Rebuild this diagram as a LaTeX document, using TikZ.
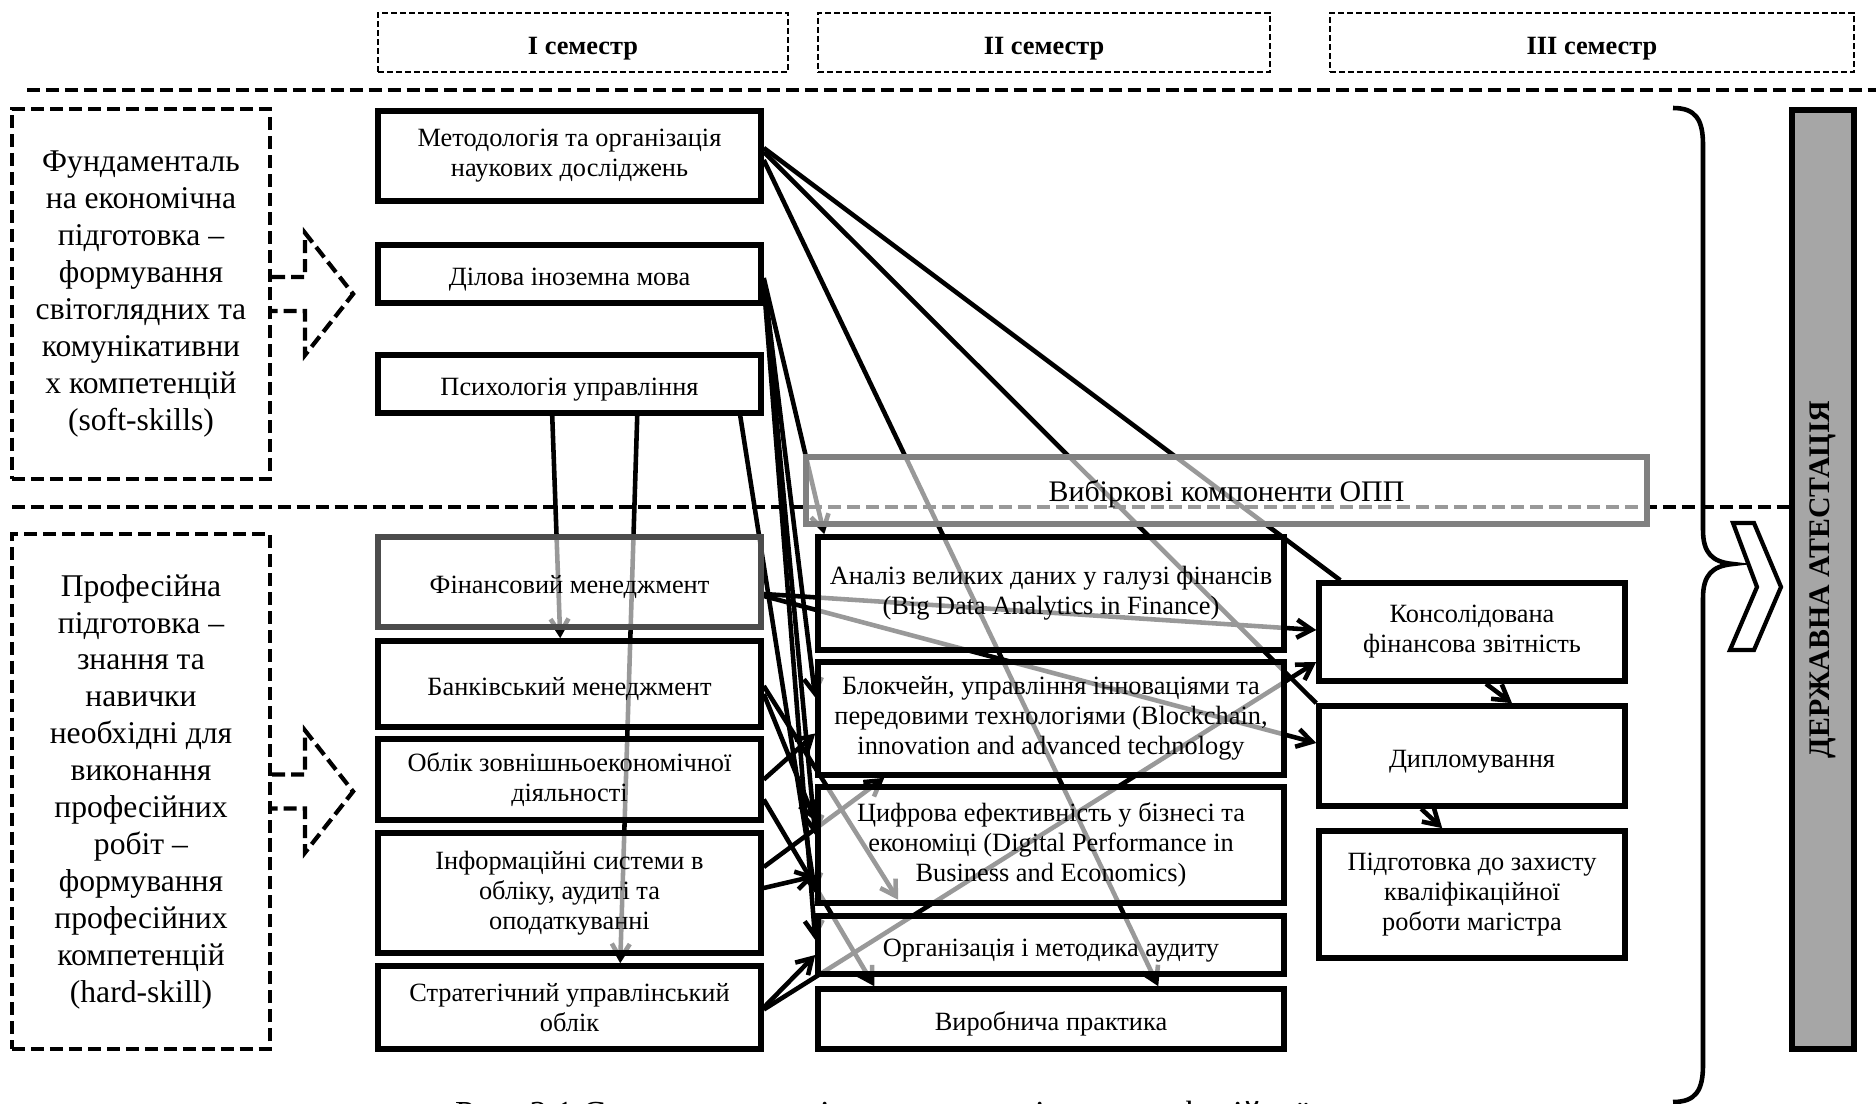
\documentclass[tikz,border=0pt]{standalone}
\usepackage{fontspec}
\setmainfont{Liberation Serif}
\usetikzlibrary{arrows.meta, calc}
\pgfdeclarelayer{bg}
\pgfsetlayers{bg,main}

\begin{document}
\begin{tikzpicture}[x=0.02cm, y=-0.02cm,
  box/.style={draw, line width=3.2pt, fill=white, fill opacity=0.6, text opacity=1,
    inner sep=0pt, align=center, font=\fontsize{15}{17}\selectfont,
    execute at begin node={\rule{0pt}{16pt}}},
  col1/.style={box, minimum width=7.66cm},
  col2/.style={box, minimum width=9.32cm},
  col3/.style={box, minimum width=6.12cm},
  semester/.style={draw, line width=1.2pt, dash pattern=on 3.4pt off 1.7pt,
    minimum height=1.18cm, inner sep=0pt, font=\fontsize{15}{18}\selectfont\bfseries,
    execute at begin node={\rule{0pt}{17pt}}},
  group/.style={draw, line width=2.4pt, dash pattern=on 7.4pt off 3.4pt,
    minimum width=5.16cm, inner sep=0pt, align=center, font=\fontsize{18}{21}\selectfont,
    execute at begin node={\rule{0pt}{18pt}}},
  sep/.style={line width=2.6pt, dash pattern=on 7.4pt off 3.4pt},
  plain/.style={line width=2.6pt},
  link/.style={line width=2.6pt, -{Straight Barb[length=3mm,width=3.6mm]}}]

  \useasboundingbox (0,0) rectangle (1876,1104);

  \node[semester, minimum width=8.2cm] (s1) at (583,42.5) {I семестр};
  \node[semester, minimum width=9.04cm] (s2) at (1044,42.5) {II семестр};
  \node[semester, minimum width=10.48cm] (s3) at (1592,42.5) {III семестр};

  \node[group, minimum height=7.4cm] (fund) at (141,294)
    {Фундаменталь\\на економічна\\підготовка –\\формування\\світоглядних та\\комунікативни\\х компетенцій\\(soft-skills)};
  \node[group, minimum height=10.3cm] (prof) at (141,791.5)
    {Професійна\\підготовка –\\знання та\\навички\\необхідні для\\виконання\\професійних\\робіт –\\формування\\професійних\\компетенцій\\(hard-skill)};
  \foreach \n in {fund,prof}
    \draw[sep, line width=2.4pt] ($(\n.east)+(0,-17)$) -- ++(33,0) -- ++(0,-44) -- ++(48,61)
      -- ++(-48,61) -- ++(0,-44) -- ++(-33,0);

  \node[col1, minimum height=1.8cm] (met) at (569.5,156) {Методологія та організація\\наукових досліджень};
  \node[col1, minimum height=1.16cm] (dil) at (569.5,274) {Ділова іноземна мова};
  \node[col1, minimum height=1.16cm] (psy) at (569.5,384) {Психологія управління};
  \node[col1, draw=black!70, minimum height=1.8cm] (fin) at (569.5,582) {Фінансовий менеджмент};
  \node[col1, minimum height=1.72cm] (bank) at (569.5,684) {Банківський менеджмент};
  \node[col1, minimum height=1.62cm] (zed) at (569.5,779.5) {Облік зовнішньоекономічної\\діяльності};
  \node[col1, minimum height=2.4cm] (info) at (569.5,893) {Інформаційні системи в\\обліку, аудиті та\\оподаткуванні};
  \node[col1, minimum height=1.66cm] (strat) at (569.5,1007.5) {Стратегічний управлінський\\облік};

  \node[box, draw=black!50, minimum width=16.82cm, minimum height=1.34cm,
    font=\fontsize{17}{20}\selectfont] (vyb) at (1226.5,490.5) {Вибіркові компоненти ОПП};

  \node[col2, minimum height=2.26cm] (big) at (1051,593.5) {Аналіз великих даних у галузі фінансів\\(Big Data Analytics in Finance)};
  \node[col2, minimum height=2.26cm] (blk) at (1051,718.5) {Блокчейн, управління інноваціями та\\передовими технологіями (Blockchain,\\innovation and advanced technology};
  \node[col2, minimum height=2.32cm] (cyf) at (1051,845) {Цифрова ефективність у бізнесі та\\економіці (Digital Performance in\\Business and Economics)};
  \node[col2, minimum height=1.16cm] (aud) at (1051,945) {Організація і методика аудиту};
  \node[col2, minimum height=1.2cm] (prak) at (1051,1019) {Виробнича практика};

  \node[col3, minimum height=1.96cm] (kons) at (1472,632) {Консолідована\\фінансова звітність};
  \node[col3, minimum height=2cm] (dipl) at (1472,756) {Дипломування};
  \node[col3, minimum height=2.54cm] (zah) at (1472,894.5) {Підготовка до захисту\\кваліфікаційної\\роботи магістра};

  \node[draw, line width=3.2pt, fill=black!35, rotate=90, minimum width=18.78cm, minimum height=1.24cm,
    inner sep=0pt, font=\fontsize{17}{20}\selectfont\bfseries] (att) at (1823,579.5) {ДЕРЖАВНА АТЕСТАЦІЯ};

  \draw[line width=2.6pt] (1673,108) .. controls (1696,108) and (1703,120) .. (1703,145)
    -- (1703,530) .. controls (1703,553) and (1712,562) .. (1733,564)
    .. controls (1712,566) and (1703,575) .. (1703,598)
    -- (1703,1065) .. controls (1703,1090) and (1696,1102) .. (1673,1102);
  \draw[line width=2.4pt, fill=white] (1733,523) -- (1754,523) -- (1781,587) -- (1754,650)
    -- (1730,650) -- (1757,587) -- cycle;

  \node[anchor=base west, font=\fontsize{20}{24}\selectfont] (cap) at (449,1125)
    {Рис. 2.1 Структурно-логічна схема освітньо-професійної програми};

  \begin{pgfonlayer}{bg}
    \draw[sep] (27,90) -- (1876,90);
    \draw[sep] (12,507) -- (1792,507);

    \draw[plain] ($(met.east)+(0,-8)$) -- ($(kons.north west)+(24,0)$);
    \draw[plain] ($(met.east)+(0,-4)$) -- (dipl.north west);
    \draw[link] ($(met.east)+(0,4)$) -- ($(prak.north west)+(343,0)$);

    \draw[link] ($(dil.east)+(0,4)$) -- ($(big.north west)+(9,0)$);
    \draw[link] ($(dil.east)+(0,6)$) -- ($(blk.west)+(0,-21)$);
    \draw[link] ($(dil.east)+(0,8)$) -- ($(cyf.west)+(0,-10)$);
    \draw[link] ($(dil.east)+(0,10)$) -- ($(aud.west)+(0,-5)$);

    \draw[link] ($(psy.south west)+(177,0)$) -- ($(bank.north west)+(185,0)$);
    \draw[link] ($(psy.south west)+(262,0)$) -- ($(strat.north west)+(245,0)$);
    \draw[link] ($(psy.south west)+(365,0)$) -- ($(cyf.west)+(0,48)$);

    \draw[link] ($(fin.east)+(0,12)$) -- ($(kons.west)+(0,-2)$);
    \draw[link] ($(fin.east)+(0,14)$) -- ($(dipl.west)+(0,-13)$);

    \draw[link] ($(bank.east)+(0,2)$) -- ($(cyf.south west)+(83,-6)$);
    \draw[link] ($(bank.east)+(0,10)$) -- ($(cyf.west)+(0,-24)$);

    \draw[link] (zed.east) -- ($(blk.west)+(0,15)$);
    \draw[link] ($(zed.east)+(0,20)$) -- ($(prak.north west)+(59,0)$);

    \draw[link] ($(info.east)+(0,-26)$) -- ($(blk.south west)+(69,0)$);
    \draw[link] ($(info.east)+(0,-5)$) -- ($(cyf.west)+(0,31)$);

    \draw[link] (strat.east) -- ($(aud.west)+(0,10)$);
    \draw[link] ($(strat.east)+(0,2)$) -- ($(kons.west)+(0,30)$);

    \draw[link] ($(kons.south)+(14,0)$) -- ($(dipl.north)+(40,0)$);
    \draw[link] ($(dipl.south west)+(105,0)$) -- ($(zah.north west)+(126,0)$);
  \end{pgfonlayer}
\end{tikzpicture}
\end{document}
